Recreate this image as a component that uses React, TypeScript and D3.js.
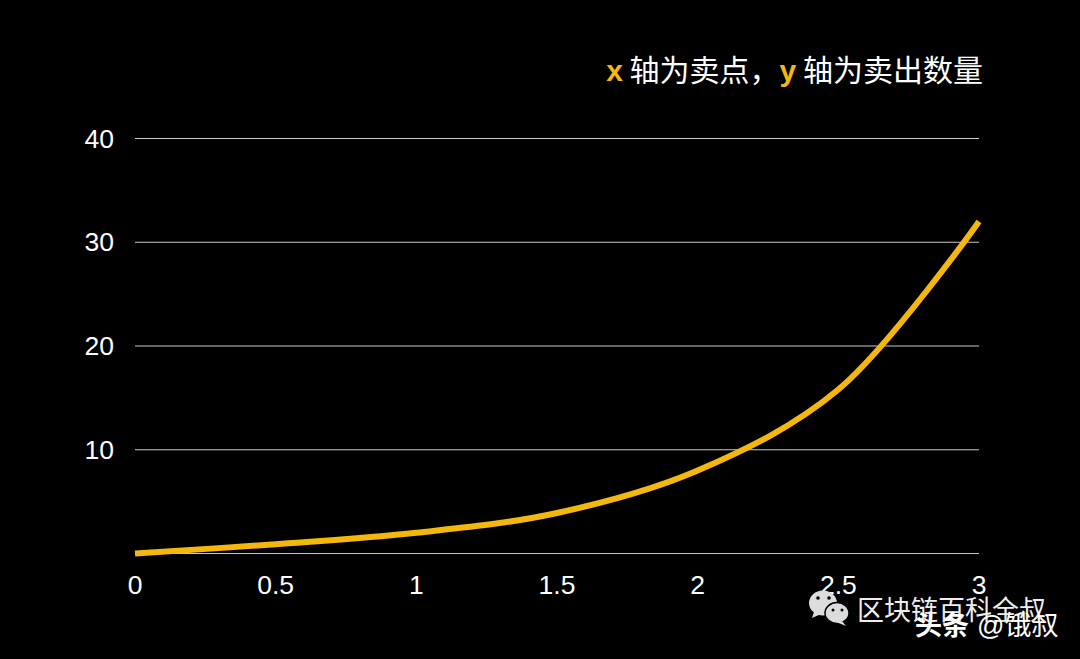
import * as d3 from "d3";
import React from "react";

const xValues = [0, 0.5, 1, 1.5, 2, 2.5, 3];
const yValues = [0, 0.9, 2, 3.9, 8, 15.8, 32];
const xTicks = [0, 0.5, 1, 1.5, 2, 2.5, 3];
const yTicks = [10, 20, 30, 40];
const gridValues = [0, 10, 20, 30, 40];

const WIDTH = 1080;
const HEIGHT = 659;
const YELLOW = "#f4b70c";
const FONT = "'Liberation Sans', 'Noto Sans CJK SC', sans-serif";
const CJK = "'Noto Sans CJK SC', sans-serif";

const App: React.FC = () => {
  const x = d3.scaleLinear().domain([0, 3]).range([135, 979]);
  const y = d3.scaleLinear().domain([0, 40]).range([553.5, 138.5]);

  const line = d3
    .line<number>()
    .x((d) => x(d))
    .y((_, i) => y(yValues[i]))
    .curve(d3.curveCatmullRom.alpha(0.5));

  return (
    <svg
      width={WIDTH}
      height={HEIGHT}
      viewBox={`0 0 ${WIDTH} ${HEIGHT}`}
      style={{ position: "absolute", left: 0, top: 0, background: "#000" }}
    >
      <rect width={WIDTH} height={HEIGHT} fill="#000" />

      {gridValues.map((v) => (
        <line key={v} x1={x(0)} x2={x(3)} y1={y(v)} y2={y(v)} stroke="#c8c8c8" strokeWidth={1} />
      ))}

      {yTicks.map((t) => (
        <text key={t} x={114} y={y(t) + 9} fill="#fff" fontFamily={FONT} fontSize={26.5} textAnchor="end">
          {t}
        </text>
      ))}

      {xTicks.map((t) => (
        <text key={t} x={x(t)} y={594} fill="#fff" fontFamily={FONT} fontSize={26.5} textAnchor="middle">
          {t}
        </text>
      ))}

      <path d={line(xValues) ?? ""} fill="none" stroke={YELLOW} strokeWidth={6} strokeLinejoin="round" />

      <text x={983} y={81} fontFamily={CJK} fontSize={30} fontWeight={400} textAnchor="end" fill="#fff">
        <tspan fill={YELLOW} fontFamily={FONT} fontWeight={700}>x</tspan>
        <tspan> 轴为卖点，</tspan>
        <tspan fill={YELLOW} fontFamily={FONT} fontWeight={700}>y</tspan>
        <tspan> 轴为卖出数量</tspan>
      </text>

      {/* watermark */}
      <g fill="#dcdcdc">
        <ellipse cx={823} cy={603} rx={14} ry={12.5} />
        <path d="M814 612 L812 618 L821 614 Z" />
        <ellipse cx={837} cy={613} rx={12} ry={10.5} stroke="#000" strokeWidth={1.5} />
        <path d="M842 621 L846 626 L836 622 Z" />
        <circle cx={818} cy={598} r={1.8} fill="#000" />
        <circle cx={829} cy={598} r={1.8} fill="#000" />
        <circle cx={833} cy={610} r={1.5} fill="#000" />
        <circle cx={842} cy={610} r={1.5} fill="#000" />
      </g>
      <text x={857} y={620} fill="#eee" fontFamily={CJK} fontSize={27}>
        区块链百科全叔
      </text>
      <text x={915} y={635} fill="#fff" fontFamily={CJK} fontSize={27} fontWeight={700}>
        头条
      </text>
      <text x={977} y={635} fill="#fff" fontFamily={FONT} fontSize={27}>
        @饿叔
      </text>
    </svg>
  );
};

export default App;
